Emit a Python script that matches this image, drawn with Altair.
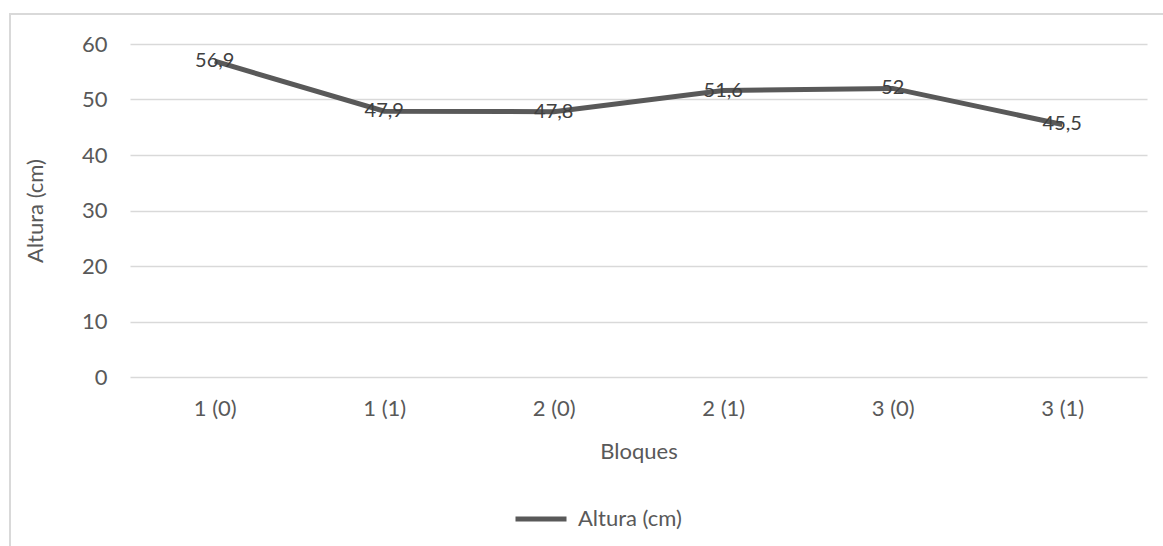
import altair as alt
import pandas as pd

categories = ["1 (0)", "1 (1)", "2 (0)", "2 (1)", "3 (0)", "3 (1)"]
values = [56.9, 47.9, 47.8, 51.6, 52.0, 45.5]
labels = ["56,9", "47,9", "47,8", "51,6", "52", "45,5"]
series = ["Altura (cm)"] * 6

df = pd.DataFrame({"Bloques": categories, "Altura": values, "label": labels, "serie": series})

FONT = "Lato"
FS = 22
GRAY = "#595959"

x = alt.X("Bloques:N", sort=categories, scale=alt.Scale(type="point", padding=0.5),
          axis=alt.Axis(title="Bloques", labelAngle=0, domain=False, ticks=False, labelPadding=21,
                        titleX=508.5, titleY=74, titleBaseline="middle"))
y = alt.Y("Altura:Q", scale=alt.Scale(domain=[0, 60]),
          axis=alt.Axis(title="Altura (cm)", values=[0, 10, 20, 30, 40, 50, 60], domain=False, ticks=False,
                        labelPadding=23, grid=True, gridColor="#d9d9d9", gridWidth=1.3,
                        titleX=-95, titleY=166.5, titleAngle=-90, titleBaseline="middle", titleAlign="center"))

border = alt.Chart(df).mark_rect(fill=None, stroke="#d9d9d9", strokeWidth=2).encode(
    x=alt.value(-120), x2=alt.value(1045), y=alt.value(-30), y2=alt.value(520)
)

line = alt.Chart(df).mark_line(strokeWidth=5, color=GRAY).encode(
    x=x, y=y,
    color=alt.Color("serie:N", scale=alt.Scale(range=[GRAY]),
                    legend=alt.Legend(title=None, orient="none", legendX=383, legendY=447,
                                      symbolType="stroke", symbolStrokeWidth=5, symbolSize=2601,
                                      labelFont=FONT, labelFontSize=FS, labelColor=GRAY, labelOffset=9))
)

text = alt.Chart(df).mark_text(font=FONT, fontSize=20, color="#404040", baseline="middle", align="center").encode(
    x=alt.X("Bloques:N", sort=categories), y="Altura:Q", text="label:N"
)

chart = alt.layer(border, line, text).properties(
    width=1017, height=333,
    background="white",
    autosize=alt.AutoSizeParams(type="none"),
    padding={"left": 130, "top": 44, "right": 16, "bottom": 169},
).configure_view(stroke=None).configure_axis(
    labelFont=FONT, labelFontSize=FS, labelColor=GRAY, titleFont=FONT, titleFontSize=FS,
    titleColor=GRAY, titleFontWeight="normal"
)

chart.save("out.html", embed_options={"renderer": "svg", "actions": False})
